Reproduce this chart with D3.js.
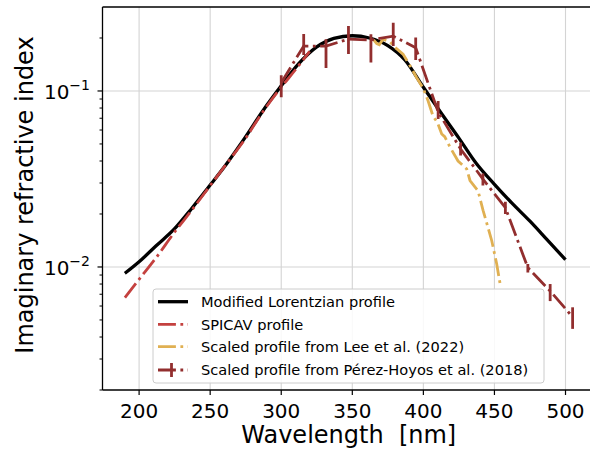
<!DOCTYPE html>
<html><head><meta charset="utf-8">
<script src="https://cdn.jsdelivr.net/npm/d3@7"></script>
<style>body{margin:0;background:#fff}svg{display:block;font-family:"DejaVu Sans",sans-serif}</style>
</head><body><svg id="c" width="590" height="453"></svg>
<script>
// ---- data ----
const xTicks = [200, 250, 300, 350, 400, 450, 500];
const yTickLabels = [{v: 0.01, base: "10", exp: "\u22122"}, {v: 0.1, base: "10", exp: "\u22121"}];

const lorWl  = [190,200,212,225,237,250,262,275,287,300,312,325,337,350,362,375,387,400,412,425,437,450,462,475,487,500];
const lorVal = [0.0092,0.0107,0.0132,0.0165,0.0215,0.0292,0.039,0.055,0.077,0.107,0.142,0.178,0.199,0.206,0.2,0.181,0.15,0.105,0.076,0.054,0.039,0.0295,0.0232,0.0182,0.0143,0.011];

const spiWl  = [190,200,212,225,237,250,262,275,287,300,310,320];
const spiVal = [0.0067,0.0085,0.0113,0.0158,0.021,0.029,0.039,0.054,0.076,0.105,0.132,0.168];

const leeWl  = [365,367.2,369,371.6,376.5,380,385.7,390.6,395.3,399.8,403.3,406.8,410,412.9,415,418.7,424.4,430.5,432.8,438.5,442,448.1,451.6,454];
const leeVal = [0.195,0.186,0.183,0.197,0.19,0.177,0.162,0.139,0.119,0.104,0.088,0.072,0.066,0.057,0.055,0.048,0.040,0.036,0.031,0.027,0.021,0.0141,0.0104,0.0080];

const phWl   = [300,315.8,331.5,347.3,363.1,378.8,394.6,410.4,426.2,441.9,457.7,473.5,489.2,505];
const phVal  = [0.1115,0.18,0.18,0.197,0.195,0.205,0.176,0.076,0.0468,0.0316,0.0217,0.0099,0.0073,0.0052];
const phLow  = [0.092,0.160,0.135,0.162,0.145,0.180,0.150,0.0693,0.043,0.029,0.020,0.0093,0.0064,0.00445];
const phHigh = [0.123,0.211,0.197,0.234,0.210,0.244,0.201,0.0877,0.051,0.034,0.0235,0.0104,0.0080,0.0059];

const legendLabels = ["Modified Lorentzian profile","SPICAV profile","Scaled profile from Lee et al. (2022)","Scaled profile from Pérez-Hoyos et al. (2018)"];

// ---- styles ----
const C_BLACK = "#000", C_SPI = "#c4413f", C_LEE = "#e0b052", C_PH = "#922e2e";
const DASHDOT = "17.9,4.5,2.8,4.5";

const L = 102.5, R = 595, T = 7, B = 390;
const svg = d3.select("#c");
const x = d3.scaleLinear().domain([174.25, 520.75]).range([L, R]);
const y = d3.scaleLog().domain([0.002, 0.3]).range([B, T]);

svg.append("defs").append("clipPath").attr("id","clip")
  .append("rect").attr("x",L).attr("y",T).attr("width",R-L).attr("height",B-T);

// grid
const grid = svg.append("g").attr("stroke","#d4d4d4").attr("stroke-width",1.1);
xTicks.forEach(t => grid.append("line").attr("x1",x(t)).attr("x2",x(t)).attr("y1",T).attr("y2",B));
yTickLabels.forEach(t => grid.append("line").attr("x1",L).attr("x2",R).attr("y1",y(t.v)).attr("y2",y(t.v)));

const plot = svg.append("g").attr("clip-path","url(#clip)");
const line = d3.line().x(d => x(d[0])).y(d => y(d[1]));
const smooth = d3.line().x(d => x(d[0])).y(d => y(d[1])).curve(d3.curveMonotoneX);
const zip = (a,b) => a.map((v,i) => [v, b[i]]);

plot.append("path").datum(zip(lorWl,lorVal)).attr("d",smooth)
  .attr("fill","none").attr("stroke",C_BLACK).attr("stroke-width",3.3);
plot.append("path").datum(zip(spiWl,spiVal)).attr("d",smooth)
  .attr("fill","none").attr("stroke",C_SPI).attr("stroke-width",2.8).attr("stroke-dasharray",DASHDOT);
plot.append("path").datum(zip(leeWl,leeVal)).attr("d",line)
  .attr("fill","none").attr("stroke",C_LEE).attr("stroke-width",2.8).attr("stroke-dasharray",DASHDOT);
plot.append("path").datum(zip(phWl,phVal)).attr("d",line)
  .attr("fill","none").attr("stroke",C_PH).attr("stroke-width",2.8).attr("stroke-dasharray",DASHDOT);
plot.append("g").selectAll("line").data(phWl).join("line")
  .attr("x1",(d)=>x(d)).attr("x2",(d)=>x(d))
  .attr("y1",(d,i)=>y(phLow[i])).attr("y2",(d,i)=>y(phHigh[i]))
  .attr("stroke",C_PH).attr("stroke-width",2.8);

// spines
const sp = svg.append("g").attr("stroke","#000").attr("stroke-width",1.3).attr("fill","none");
sp.append("line").attr("x1",L).attr("x2",L).attr("y1",T).attr("y2",B);
sp.append("line").attr("x1",L).attr("x2",R).attr("y1",B).attr("y2",B);
sp.append("line").attr("x1",L).attr("x2",R).attr("y1",T).attr("y2",T);
sp.append("line").attr("x1",R).attr("x2",R).attr("y1",T).attr("y2",B);

// x axis ticks
xTicks.forEach(t => {
  svg.append("line").attr("x1",x(t)).attr("x2",x(t)).attr("y1",B).attr("y2",B+5)
    .attr("stroke","#000").attr("stroke-width",1.2);
  svg.append("text").attr("x",x(t)).attr("y",418).attr("text-anchor","middle")
    .attr("font-size",20).attr("fill","#000").text(t);
});
// y axis ticks
const minor = [];
[0.001,0.01,0.1].forEach(dec => { for (let k=2;k<=9;k++){ const v=dec*k; if (v>=0.002 && v<=0.3) minor.push(v); }});
minor.forEach(v => svg.append("line").attr("x1",L-3).attr("x2",L).attr("y1",y(v)).attr("y2",y(v))
  .attr("stroke","#000").attr("stroke-width",1));
yTickLabels.forEach(t => {
  svg.append("line").attr("x1",L-5).attr("x2",L).attr("y1",y(t.v)).attr("y2",y(t.v))
    .attr("stroke","#000").attr("stroke-width",1.2);
  const tx = svg.append("text").attr("x",90).attr("y",y(t.v)+8).attr("text-anchor","end")
    .attr("font-size",20).attr("fill","#000");
  tx.append("tspan").text(t.base);
  tx.append("tspan").attr("dy",-9).attr("font-size",14).text(t.exp);
});

// axis labels
svg.append("text").attr("x",(L+R)/2).attr("y",443).attr("text-anchor","middle")
  .attr("font-size",24).attr("fill","#000").style("white-space","pre").text("Wavelength  [nm]");
svg.append("text").attr("transform","translate(33,195) rotate(-90)").attr("text-anchor","middle")
  .attr("font-size",24).attr("fill","#000").text("Imaginary refractive index");

// legend
const lg = svg.append("g");
lg.append("rect").attr("x",153).attr("y",289).attr("width",391).attr("height",94).attr("rx",3)
  .attr("fill","#fff").attr("fill-opacity",0.85).attr("stroke","#cccccc").attr("stroke-width",1);
const rows = [301.7, 324.3, 346.7, 370];
const hs = [
  {c:C_BLACK, w:3.3, dash:null, err:false},
  {c:C_SPI, w:2.8, dash:DASHDOT, err:false},
  {c:C_LEE, w:2.8, dash:DASHDOT, err:false},
  {c:C_PH, w:2.8, dash:DASHDOT, err:true}
];
hs.forEach((h,i) => {
  const yy = rows[i];
  const ln = lg.append("line").attr("x1",158).attr("x2",188).attr("y1",yy).attr("y2",yy)
    .attr("stroke",h.c).attr("stroke-width",h.w);
  if (h.dash) ln.attr("stroke-dasharray",h.dash);
  if (h.err) lg.append("line").attr("x1",171.5).attr("x2",171.5).attr("y1",yy-7).attr("y2",yy+7)
    .attr("stroke",h.c).attr("stroke-width",2.8);
  lg.append("text").attr("x",201).attr("y",yy+5.3).attr("font-size",14.6).attr("fill","#000").text(legendLabels[i]);
});
</script></body></html>
